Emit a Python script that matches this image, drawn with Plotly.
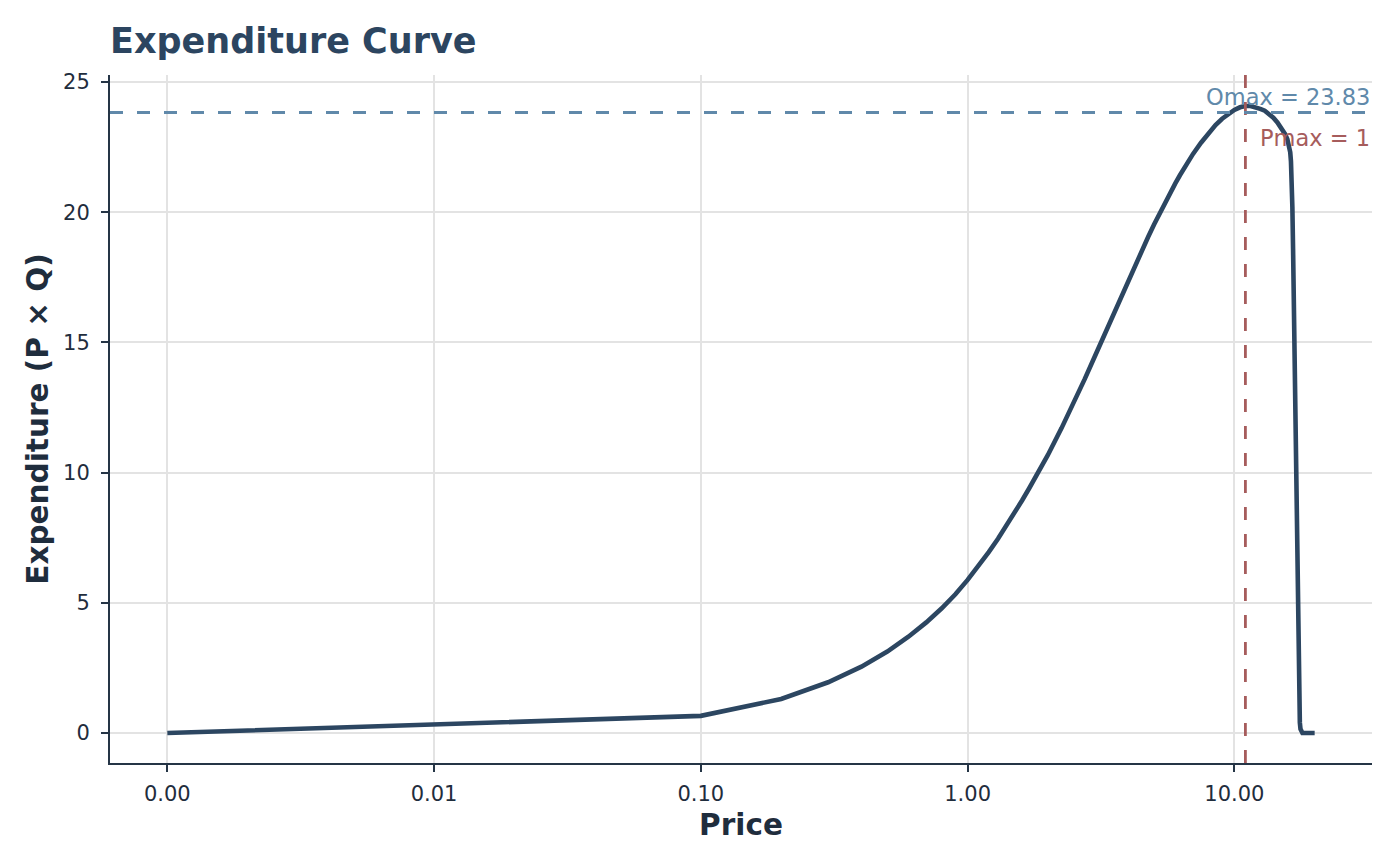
import plotly.graph_objects as go

# values
price = [0.001, 0.1, 0.2, 0.3, 0.4, 0.5, 0.6, 0.7, 0.8, 0.9,
         1.0, 1.1, 1.2, 1.3, 1.4, 1.5, 1.6, 1.7, 1.8, 1.9, 2.0,
         2.25, 2.5, 2.75, 3.0, 3.25, 3.5, 3.75, 4.0, 4.25, 4.5, 4.75, 5.0,
         5.25, 5.5, 5.75, 6.0, 6.25, 6.5, 6.75, 7.0, 7.5, 8.0, 8.5, 9.0, 9.5,
         10.0, 10.5, 11.0, 11.5, 12.0, 12.5, 13.0, 13.5, 14.0, 14.5, 15.0,
         15.5, 15.8, 16.0, 16.2, 16.3, 16.4, 16.5, 16.6, 16.7, 16.8, 16.9,
         17.0, 17.1, 17.2, 17.3, 17.4, 17.5, 17.6, 17.7, 17.8, 18.0, 19.0, 20.0]
expenditure = [0.0, 0.66, 1.31, 1.95, 2.55, 3.13, 3.70, 4.25, 4.79, 5.33,
               5.88, 6.41, 6.95, 7.46, 7.97, 8.45, 8.93, 9.39, 9.83, 10.27, 10.68,
               11.71, 12.67, 13.60, 14.47, 15.28, 16.03, 16.73, 17.38, 17.97, 18.53, 19.05, 19.53,
               19.97, 20.38, 20.76, 21.10, 21.42, 21.71, 21.99, 22.24, 22.67, 23.04, 23.35, 23.59, 23.78,
               23.93, 24.03, 24.08, 24.08, 24.04, 23.97, 23.90, 23.78, 23.63, 23.45, 23.24,
               23.00, 22.80, 22.60, 22.30, 21.95, 21.30, 20.20, 18.60, 16.60, 14.30, 11.80,
               9.30, 7.00, 4.90, 3.10, 1.80, 0.90, 0.40, 0.15, 0.05, 0.0, 0.0, 0.0]

omax = 23.83
pmax = 11
omax_label = "Omax = 23.83"
pmax_label = "Pmax = 1"

x_ticks = [0.001, 0.01, 0.1, 1, 10]
x_ticktext = ["0.00", "0.01", "0.10", "1.00", "10.00"]
y_ticks = [0, 5, 10, 15, 20, 25]

x_range = [-3.215, 1.516]
y_range = [-1.15, 25.27]

font = "DejaVu Sans"
ink = "#1f2d3d"

fig = go.Figure()

fig.add_trace(go.Scatter(
    x=price, y=expenditure, mode="lines",
    line=dict(color="#2c4661", width=4.6),
    showlegend=False, hoverinfo="skip"))

# vertical Pmax line spans the full panel
fig.add_trace(go.Scatter(
    x=[pmax, pmax], y=y_range, mode="lines",
    line=dict(color="#a65c5c", width=2.8, dash="13px,14px"),
    showlegend=False, hoverinfo="skip"))

fig.add_shape(type="line", xref="paper", x0=0, x1=1, yref="y", y0=omax, y1=omax,
              line=dict(color="#6089aa", width=2.8, dash="13px,14px"), layer="above")

fig.add_annotation(text=omax_label, xref="paper", x=1, xanchor="right",
                   yref="y", y=omax, yanchor="bottom", yshift=1, showarrow=False,
                   font=dict(family=font, size=22.5, color="#6089aa"))
fig.add_annotation(text=pmax_label, xref="paper", x=1, xanchor="right",
                   yref="y", y=22.85, yanchor="middle", showarrow=False,
                   font=dict(family=font, size=22.5, color="#a65c5c"))

axis_common = dict(
    showline=True, linecolor="#253546", linewidth=2,
    ticks="outside", ticklen=7, tickwidth=1.5, tickcolor="#253546",
    showgrid=True, gridcolor="#e3e3e3", gridwidth=1.5,
    zeroline=False, tickfont=dict(family=font, size=21, color=ink),
)

fig.update_xaxes(type="log", range=x_range, tickvals=x_ticks, ticktext=x_ticktext,
                 ticklabelstandoff=4,
                 title=dict(text="<b>Price</b>", font=dict(family=font, size=29.5, color=ink), standoff=9),
                 **axis_common)
fig.update_yaxes(range=y_range, tickvals=y_ticks, ticklabelstandoff=7,
                 title=dict(text="<b>Expenditure (P × Q)</b>", font=dict(family=font, size=29.5, color=ink), standoff=6),
                 **axis_common)

# the page sits 8px in from the window edge, so margins are shifted to match
fig.update_layout(
    width=1400, height=866,
    margin=dict(l=102, r=36, t=67, b=111),
    plot_bgcolor="white", paper_bgcolor="white",
    title=dict(text="<b>Expenditure Curve</b>", x=0, xref="paper", xanchor="left",
               y=0.962, yref="container", yanchor="middle",
               font=dict(family=font, size=35, color="#2c4560")),
    font=dict(family=font),
)

fig.write_html("out.html")
